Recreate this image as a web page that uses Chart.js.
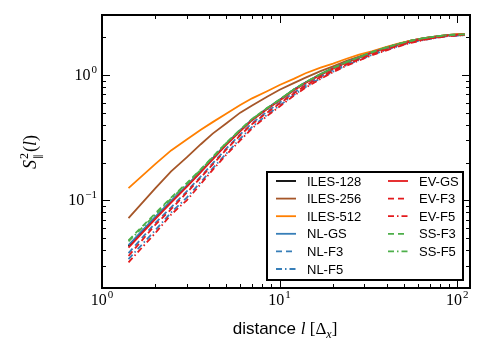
<!DOCTYPE html>
<html lang="en">
<head>
<meta charset="UTF-8">
<title>Structure function</title>
<style>
  body { margin: 0; padding: 0; background: #fff; }
  #chart { display: block; }
</style>
</head>
<body>
<canvas id="chart" width="488" height="360"></canvas>
<script src="https://cdn.jsdelivr.net/npm/chart.js"></script>
<script>
// distances l (in grid spacings)
const distance = [1.41, 2, 2.45, 3, 3.6, 4.2, 5, 6, 7, 8.5, 10, 12, 14, 17, 20, 24, 28, 33, 40, 47, 55, 65, 77, 90, 110];

const iles128 = [0.043, 0.073, 0.098, 0.13, 0.17, 0.215, 0.28, 0.36, 0.44, 0.54, 0.63, 0.76, 0.87, 1.01, 1.13, 1.27, 1.38, 1.52, 1.66, 1.77, 1.87, 1.96, 2.03, 2.08, 2.1];
const iles256 = [0.072, 0.125, 0.17, 0.22, 0.28, 0.34, 0.41, 0.5, 0.57, 0.67, 0.76, 0.86, 0.95, 1.07, 1.17, 1.3, 1.4, 1.52, 1.66, 1.77, 1.87, 1.96, 2.03, 2.08, 2.12];
const iles512 = [0.125, 0.195, 0.25, 0.305, 0.365, 0.42, 0.49, 0.575, 0.65, 0.74, 0.83, 0.93, 1.03, 1.14, 1.23, 1.35, 1.45, 1.54, 1.67, 1.78, 1.87, 1.96, 2.03, 2.08, 2.12];
const nlGS = [0.044, 0.074, 0.099, 0.131, 0.171, 0.216, 0.28, 0.36, 0.44, 0.54, 0.63, 0.76, 0.87, 1.01, 1.13, 1.27, 1.38, 1.51, 1.65, 1.76, 1.86, 1.95, 2.02, 2.07, 2.09];
const nlF3 = [0.038, 0.066, 0.088, 0.118, 0.155, 0.197, 0.258, 0.335, 0.412, 0.51, 0.6, 0.72, 0.83, 0.97, 1.09, 1.23, 1.34, 1.47, 1.61, 1.73, 1.83, 1.92, 2.0, 2.05, 2.08];
const nlF5 = [0.034, 0.058, 0.08, 0.105, 0.14, 0.18, 0.235, 0.31, 0.385, 0.48, 0.57, 0.69, 0.8, 0.94, 1.06, 1.2, 1.31, 1.44, 1.58, 1.7, 1.81, 1.9, 1.98, 2.04, 2.07];
const evGS = [0.042, 0.071, 0.096, 0.128, 0.168, 0.212, 0.277, 0.355, 0.435, 0.535, 0.625, 0.75, 0.86, 1.0, 1.12, 1.26, 1.37, 1.5, 1.64, 1.75, 1.85, 1.94, 2.01, 2.07, 2.1];
const evF3 = [0.036, 0.064, 0.085, 0.115, 0.152, 0.193, 0.253, 0.33, 0.405, 0.5, 0.59, 0.71, 0.82, 0.96, 1.08, 1.22, 1.33, 1.46, 1.6, 1.72, 1.82, 1.92, 1.99, 2.05, 2.08];
const evF5 = [0.032, 0.055, 0.077, 0.1, 0.135, 0.175, 0.23, 0.3, 0.375, 0.47, 0.56, 0.68, 0.79, 0.93, 1.05, 1.19, 1.3, 1.43, 1.57, 1.69, 1.8, 1.9, 1.98, 2.04, 2.07];
const ssF3 = [0.048, 0.079, 0.105, 0.137, 0.177, 0.222, 0.287, 0.366, 0.446, 0.545, 0.635, 0.765, 0.875, 1.015, 1.135, 1.27, 1.38, 1.52, 1.66, 1.77, 1.87, 1.96, 2.03, 2.08, 2.1];
const ssF5 = [0.047, 0.077, 0.103, 0.135, 0.175, 0.22, 0.285, 0.364, 0.444, 0.543, 0.633, 0.763, 0.873, 1.013, 1.133, 1.27, 1.38, 1.51, 1.65, 1.77, 1.87, 1.96, 2.03, 2.08, 2.1];

const xTicks = [1, 10, 100];
const yTicks = [0.1, 1];

const solid = [];
const dashed = [6, 4];
const dashdot = [6, 3, 1.5, 3];

// legend order (matplotlib draws in this order, last on top)
const series = [
    { label: 'ILES-128', data: iles128, color: '#000000', dash: solid },
    { label: 'ILES-256', data: iles256, color: '#a65628', dash: solid },
    { label: 'ILES-512', data: iles512, color: '#ff7f00', dash: solid },
    { label: 'NL-GS', data: nlGS, color: '#377eb8', dash: solid },
    { label: 'NL-F3', data: nlF3, color: '#377eb8', dash: dashed },
    { label: 'NL-F5', data: nlF5, color: '#377eb8', dash: dashdot },
    { label: 'EV-GS', data: evGS, color: '#e41a1c', dash: solid },
    { label: 'EV-F3', data: evF3, color: '#e41a1c', dash: dashed },
    { label: 'EV-F5', data: evF5, color: '#e41a1c', dash: dashdot },
    { label: 'SS-F3', data: ssF3, color: '#4daf4a', dash: dashed },
    { label: 'SS-F5', data: ssF5, color: '#4daf4a', dash: dashdot }
];

// chart.js puts dataset 0 on top, so hand them over reversed
const datasets = series.slice().reverse().map(s => ({
    label: s.label,
    data: distance.map((d, i) => ({ x: d, y: s.data[i] })),
    borderColor: s.color,
    borderDash: s.dash,
    borderWidth: 1.8,
    pointRadius: 0,
    fill: false
}));

function drawPow(ctx, base, exp, x, y, align) {
    ctx.font = '16px "Liberation Serif"';
    const wb = ctx.measureText(base).width;
    ctx.font = '11px "Liberation Serif"';
    const we = ctx.measureText(exp).width;
    const w = wb + we + 1;
    let left = x;
    if (align === 'center') left = x - w / 2;
    if (align === 'right') left = x - w;
    ctx.textAlign = 'left';
    ctx.textBaseline = 'alphabetic';
    ctx.font = '16px "Liberation Serif"';
    ctx.fillText(base, left, y);
    ctx.font = '11px "Liberation Serif"';
    ctx.fillText(exp, left + wb + 1, y - 7);
}

const decor = {
    id: 'decor',
    afterDraw(chart) {
        const ctx = chart.ctx;
        const a = chart.chartArea;
        const xs = chart.scales.x, ys = chart.scales.y;
        ctx.save();
        ctx.strokeStyle = '#000';
        ctx.fillStyle = '#000';

        // minor and major ticks on all four sides
        ctx.lineWidth = 1;
        for (let d = 0; d <= 2; d++) {
            for (let k = 1; k <= 9; k++) {
                const v = k * Math.pow(10, d);
                if (v > xs.max) break;
                const px = Math.round(xs.getPixelForValue(v)) + 0.5;
                const len = k === 1 ? 8 : 4;
                ctx.beginPath();
                ctx.moveTo(px, a.bottom); ctx.lineTo(px, a.bottom - len);
                ctx.moveTo(px, a.top); ctx.lineTo(px, a.top + len);
                ctx.stroke();
            }
        }
        for (let d = -2; d <= 0; d++) {
            for (let k = 1; k <= 9; k++) {
                const v = k * Math.pow(10, d);
                if (v < ys.min || v > ys.max) continue;
                const py = Math.round(ys.getPixelForValue(v)) + 0.5;
                const len = k === 1 ? 8 : 4;
                ctx.beginPath();
                ctx.moveTo(a.left, py); ctx.lineTo(a.left + len, py);
                ctx.moveTo(a.right, py); ctx.lineTo(a.right - len, py);
                ctx.stroke();
            }
        }

        // frame
        ctx.lineWidth = 2;
        ctx.strokeRect(a.left, a.top, a.right - a.left, a.bottom - a.top);

        // tick labels
        xTicks.forEach(v => {
            drawPow(ctx, '10', String(Math.round(Math.log10(v))), xs.getPixelForValue(v), 305, 'center');
        });
        yTicks.forEach(v => {
            const e = Math.round(Math.log10(v));
            drawPow(ctx, '10', e < 0 ? '\u2212' + (-e) : String(e), 97, ys.getPixelForValue(v) + 5, 'right');
        });

        // x title
        ctx.textBaseline = 'alphabetic';
        ctx.textAlign = 'left';
        const parts = [
            { t: 'distance ', f: '17px "Liberation Sans"', dy: 0 },
            { t: 'l', f: 'italic 17px "Liberation Serif"', dy: 0 },
            { t: ' [\u0394', f: '17px "Liberation Serif"', dy: 0 },
            { t: 'x', f: 'italic 12px "Liberation Serif"', dy: 4 },
            { t: ']', f: '17px "Liberation Serif"', dy: 0 }
        ];
        let tw = 0;
        parts.forEach(p => { ctx.font = p.f; p.w = ctx.measureText(p.t).width; tw += p.w; });
        let cx = 285 - tw / 2;
        parts.forEach(p => { ctx.font = p.f; ctx.fillText(p.t, cx, 334 + p.dy); cx += p.w; });

        // y title
        ctx.save();
        ctx.translate(36, 152);
        ctx.rotate(-Math.PI / 2);
        const sW = (ctx.font = 'italic 18px "Liberation Serif"', ctx.measureText('S').width);
        ctx.font = '12px "Liberation Serif"';
        const supW = ctx.measureText('2').width;
        ctx.font = '18px "Liberation Serif"';
        const restW = ctx.measureText('()').width;
        ctx.font = 'italic 18px "Liberation Serif"';
        const lW = ctx.measureText('l').width;
        const total = sW + 1 + supW + 1 + restW + lW;
        let yx = -total / 2;
        ctx.font = 'italic 18px "Liberation Serif"';
        ctx.fillText('S', yx, 0);
        yx += sW + 1;
        ctx.font = '12px "Liberation Serif"';
        ctx.fillText('2', yx, -8);
        ctx.font = '10px "DejaVu Sans"';
        ctx.fillText('\u2225', yx, 5);
        yx += supW + 1;
        ctx.font = '18px "Liberation Serif"';
        ctx.fillText('(', yx, 0);
        yx += ctx.measureText('(').width;
        ctx.font = 'italic 18px "Liberation Serif"';
        ctx.fillText('l', yx, 0);
        yx += lW;
        ctx.font = '18px "Liberation Serif"';
        ctx.fillText(')', yx, 0);
        ctx.restore();

        // legend
        const lx = 267, ly = 172, lw = 196, lh = 108;
        ctx.fillStyle = '#fff';
        ctx.fillRect(lx, ly, lw, lh);
        ctx.lineWidth = 2;
        ctx.strokeStyle = '#000';
        ctx.strokeRect(lx, ly, lw, lh);
        ctx.font = '13px "Liberation Sans"';
        ctx.textBaseline = 'middle';
        series.forEach((s, i) => {
            const col = i < 6 ? 0 : 1;
            const row = i < 6 ? i : i - 6;
            const sx = col === 0 ? 276 : 388;
            const ry = 181 + row * 17.6;
            ctx.strokeStyle = s.color;
            ctx.lineWidth = 1.8;
            ctx.setLineDash(s.dash);
            ctx.beginPath();
            ctx.moveTo(sx, ry); ctx.lineTo(sx + 20, ry);
            ctx.stroke();
            ctx.setLineDash([]);
            ctx.fillStyle = '#000';
            ctx.fillText(s.label, sx + 31, ry + 1);
        });
        ctx.restore();
    }
};

new Chart(document.getElementById('chart'), {
    type: 'line',
    data: { datasets: datasets },
    options: {
        responsive: false,
        animation: false,
        devicePixelRatio: 1,
        layout: { padding: { left: 102, right: 18, top: 15, bottom: 72 } },
        plugins: { legend: { display: false }, tooltip: { enabled: false } },
        scales: {
            x: { type: 'logarithmic', min: 1, max: 118, display: false },
            y: { type: 'logarithmic', min: 0.02, max: 3, display: false }
        }
    },
    plugins: [decor]
});
</script>
</body>
</html>
